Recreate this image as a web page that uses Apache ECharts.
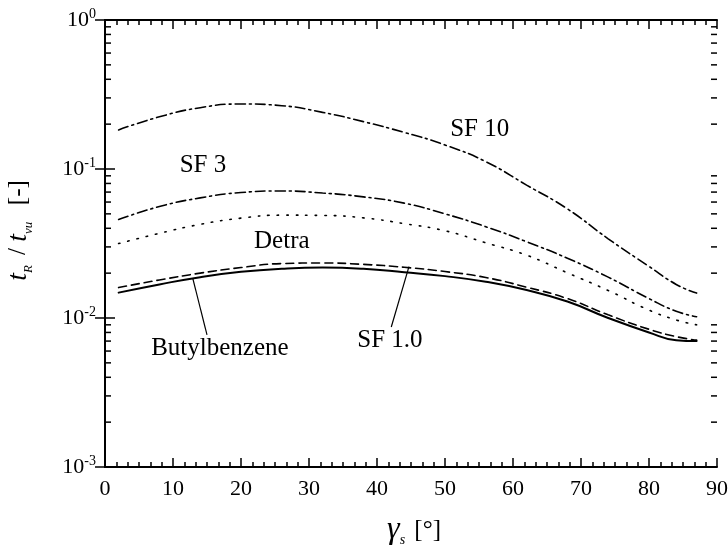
<!DOCTYPE html>
<html lang="en">
<head>
<meta charset="UTF-8">
<title>t_R / t_vu vs gamma_s</title>
<script src="https://cdn.jsdelivr.net/npm/echarts@6/dist/echarts.min.js"></script>
<style>
  html, body { margin: 0; padding: 0; background: #fff; }
</style>
</head>
<body>
<div id="chart" style="width: 728px; height: 548px;"></div>
<script>
    // angle gamma_s [deg]
    var gammaS = [2, 8, 14, 20, 26, 32, 38, 44, 50, 56, 62, 68, 74, 80, 84, 87];

    // t_R / t_vu
    var sf10 = [0.183, 0.224, 0.258, 0.273, 0.266, 0.240, 0.208, 0.176, 0.145, 0.112, 0.078, 0.054, 0.034, 0.0222, 0.0168, 0.0147];
    var sf3 = [0.0458, 0.056, 0.064, 0.0695, 0.0712, 0.069, 0.065, 0.059, 0.050, 0.041, 0.0325, 0.0252, 0.0188, 0.0135, 0.0111, 0.0102];
    var detra = [0.0316, 0.037, 0.0425, 0.0468, 0.049, 0.0488, 0.047, 0.043, 0.0385, 0.032, 0.0264, 0.0201, 0.0153, 0.0113, 0.0097, 0.0090];
    var sf1 = [0.016, 0.018, 0.020, 0.0218, 0.0232, 0.0234, 0.0229, 0.0219, 0.0205, 0.0187, 0.0161, 0.0135, 0.0105, 0.0084, 0.0075, 0.0071];
    var butyl = [0.0148, 0.0168, 0.0188, 0.0204, 0.0214, 0.0218, 0.0214, 0.0203, 0.0191, 0.0175, 0.0154, 0.0129, 0.0100, 0.0080, 0.0071, 0.0070];

    // curve labels (data coordinates)
    var labelNames = ['SF 10', 'SF 3', 'Detra', 'Butylbenzene', 'SF 1.0'];
    var labelX = [55.1, 14.4, 26.0, 16.9, 41.9];
    var labelY = [0.185, 0.106, 0.0324, 0.00629, 0.00711];

    // leader lines
    var butylLeader = [[12.9, 0.0185], [15.0, 0.0077]];
    var sf1Leader = [[44.7, 0.0221], [42.1, 0.0087]];

    // log minor ticks on the y axis
    var yMinor = [0.002, 0.003, 0.004, 0.005, 0.006, 0.007, 0.008, 0.009,
                  0.02, 0.03, 0.04, 0.05, 0.06, 0.07, 0.08, 0.09,
                  0.2, 0.3, 0.4, 0.5, 0.6, 0.7, 0.8, 0.9];

    var serif = 'Liberation Serif';

    function pairs(ys) {
        var res = [];
        for (var i = 0; i < gammaS.length; i++) {
            res.push([gammaS[i], ys[i]]);
        }
        return res;
    }

    function curve(name, ys, type, width) {
        return {
            name: name,
            type: 'line',
            data: pairs(ys),
            smooth: 0.5,
            showSymbol: false,
            symbol: 'none',
            lineStyle: { color: '#000', width: width, type: type, cap: 'round' },
            silent: true
        };
    }

    var labelData = [];
    for (var i = 0; i < labelNames.length; i++) {
        labelData.push({ name: labelNames[i], value: [labelX[i], labelY[i]] });
    }

    var minorData = [];
    for (var j = 0; j < yMinor.length; j++) {
        minorData.push([0, yMinor[j]]);
    }

    var tickAxisX = {
        type: 'value', min: 0, max: 90, interval: 10,
        axisLine: { show: true, lineStyle: { color: '#000', width: 2 } },
        axisTick: { show: true, inside: true, length: 9, lineStyle: { color: '#000', width: 1.5 } },
        minorTick: { show: true, splitNumber: 6, length: 5, lineStyle: { color: '#000', width: 1.5 } },
        splitLine: { show: false },
        minorSplitLine: { show: false }
    };

    var tickAxisY = {
        type: 'log', logBase: 10, min: 0.001, max: 1,
        axisLine: { show: true, lineStyle: { color: '#000', width: 2 } },
        axisTick: { show: true, inside: true, length: 10, lineStyle: { color: '#000', width: 1.5 } },
        splitLine: { show: false }
    };

    var chart = echarts.init(document.getElementById('chart'));
    var option = {
        animation: false,
        backgroundColor: '#fff',
        grid: { left: 105, right: 11, top: 20, bottom: 81, outerBoundsMode: 'none', containLabel: false },
        xAxis: [
            Object.assign({}, tickAxisX, {
                position: 'bottom',
                name: '{g|γ}{s|s}{n| [°]}',
                nameLocation: 'middle',
                nameGap: 46,
                nameTextStyle: {
                    padding: [0, 0, 0, 6],
                    rich: {
                        g: { fontFamily: serif, fontStyle: 'italic', fontSize: 32, color: '#000' },
                        s: { fontFamily: serif, fontStyle: 'italic', fontSize: 14, color: '#000', padding: [20, 3, 0, 0] },
                        n: { fontFamily: serif, fontSize: 25, color: '#000' }
                    }
                },
                axisLabel: { show: true, margin: 11, fontFamily: serif, fontSize: 22, color: '#000' }
            }),
            Object.assign({}, tickAxisX, {
                position: 'top',
                axisLabel: { show: false }
            })
        ],
        yAxis: [
            Object.assign({}, tickAxisY, {
                position: 'left',
                name: '{t|t}{s|R}{n| / }{t|t}{s|vu}{n|  [-]}',
                nameLocation: 'middle',
                nameRotate: 90,
                nameGap: 70,
                nameTextStyle: {
                    padding: [0, 0, 0, 26],
                    rich: {
                        t: { fontFamily: serif, fontStyle: 'italic', fontSize: 28, color: '#000' },
                        s: { fontFamily: serif, fontStyle: 'italic', fontSize: 13, color: '#000', padding: [20, 4, 0, 0] },
                        n: { fontFamily: serif, fontSize: 25, color: '#000' }
                    }
                },
                axisLabel: {
                    show: true,
                    margin: 9,
                    formatter: function (v) {
                        var e = Math.round(Math.log(v) / Math.LN10);
                        return '{b|10}{e|' + e + '}';
                    },
                    rich: {
                        b: { fontFamily: serif, fontSize: 22, color: '#000' },
                        e: { fontFamily: serif, fontSize: 14, color: '#000', padding: [0, 0, 12, 0] }
                    }
                }
            }),
            Object.assign({}, tickAxisY, {
                position: 'right',
                axisLabel: { show: false }
            })
        ],
        series: [
            curve('SF 10', sf10, [10, 4, 2, 4], 1.6),
            curve('SF 3', sf3, [10, 4, 2, 4], 1.6),
            curve('Detra', detra, [1.5, 8], 1.6),
            curve('SF 1.0', sf1, [8, 5], 1.6),
            curve('Butylbenzene', butyl, 'solid', 2),
            {
                type: 'line', data: butylLeader, symbol: 'none', silent: true,
                lineStyle: { color: '#000', width: 1.2 }
            },
            {
                type: 'line', data: sf1Leader, symbol: 'none', silent: true,
                lineStyle: { color: '#000', width: 1.2 }
            },
            {
                type: 'scatter',
                data: labelData,
                symbolSize: 0,
                silent: true,
                itemStyle: { opacity: 1, color: '#000' },
                label: {
                    show: true,
                    position: 'inside',
                    formatter: '{b}',
                    fontFamily: serif,
                    fontSize: 25,
                    color: '#000',
                    opacity: 1
                }
            },
            {
                type: 'custom',
                data: minorData,
                encode: { x: 0, y: 1 },
                silent: true,
                clip: false,
                renderItem: function (params, api) {
                    var v = api.value(1);
                    var l = api.coord([0, v]);
                    var r = api.coord([90, v]);
                    var st = { stroke: '#000', lineWidth: 1.5 };
                    return {
                        type: 'group',
                        children: [
                            { type: 'line', shape: { x1: l[0], y1: l[1], x2: l[0] + 6, y2: l[1] }, style: st },
                            { type: 'line', shape: { x1: r[0], y1: r[1], x2: r[0] - 6, y2: r[1] }, style: st }
                        ]
                    };
                }
            }
        ]
    };
    chart.setOption(option);
</script>
</body>
</html>
